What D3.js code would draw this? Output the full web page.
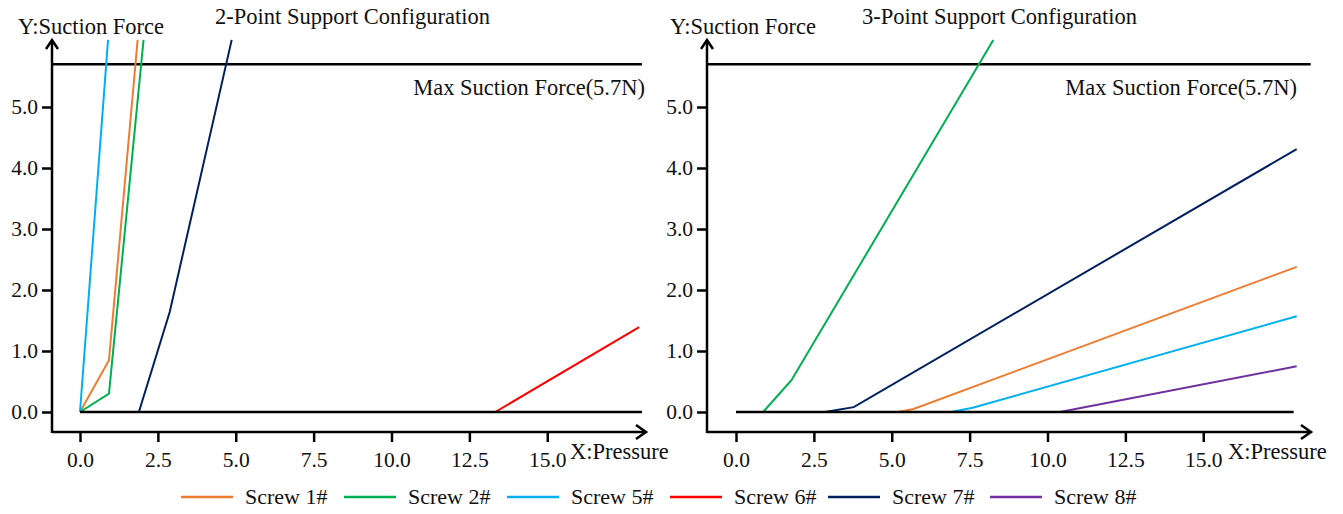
<!DOCTYPE html>
<html>
<head>
<meta charset="utf-8">
<script src="https://cdn.jsdelivr.net/npm/d3@7"></script>
<style>
  body { margin: 0; background: #fff; }
  svg text { font-family: "Liberation Serif", "Times New Roman", serif; fill: #111; }
</style>
</head>
<body>
<div id="chart"></div>
<script>
// series values: [pressure, suction force]
const screwNames = ["Screw 1#", "Screw 2#", "Screw 5#", "Screw 6#", "Screw 7#", "Screw 8#"];
const screwColors = ["#ED7D31", "#00B050", "#00B0F0", "#FF0000", "#002060", "#7030A0"];

const twoPoint = {
  "Screw 1#": [[0, 0], [0.93, 0.85], [1.85, 6.1]],
  "Screw 2#": [[0, 0], [0.93, 0.3], [2.04, 6.1]],
  "Screw 5#": [[0, 0], [0.9, 6.1]],
  "Screw 6#": [[13.33, 0], [17.95, 1.39]],
  "Screw 7#": [[1.89, 0], [2.88, 1.64], [4.87, 6.1]]
};

const threePoint = {
  "Screw 1#": [[5.2, 0], [5.7, 0.05], [18.0, 2.38]],
  "Screw 2#": [[0.87, 0], [1.78, 0.52], [8.26, 6.1]],
  "Screw 5#": [[6.9, 0], [7.6, 0.07], [18.0, 1.57]],
  "Screw 7#": [[2.85, 0], [3.78, 0.08], [18.0, 4.31]],
  "Screw 8#": [[10.4, 0], [18.0, 0.75]]
};

const xTicks = [0, 2.5, 5, 7.5, 10, 12.5, 15];
const yTicks = [0, 1, 2, 3, 4, 5];
const maxForce = 5.7;

const W = 1343, H = 514;
const svg = d3.select("#chart").append("svg")
  .attr("width", W)
  .attr("height", H);

function drawPanel(opt, data) {
  const x = d3.scaleLinear().domain([0, 15]).range([opt.x0, opt.x0 + 15 * 31.15]);
  const y = d3.scaleLinear().domain([0, 5]).range([412, 107]);
  const g = svg.append("g");

  // axes
  const xAxis = g.append("g")
    .attr("transform", "translate(0,432)")
    .call(d3.axisBottom(x).tickValues(xTicks).tickFormat(d3.format(".1f")).tickSize(10).tickPadding(10));
  const yAxis = g.append("g")
    .attr("transform", `translate(${opt.ax},0)`)
    .call(d3.axisLeft(y).tickValues(yTicks).tickFormat(d3.format(".1f")).tickSize(10).tickPadding(4));
  [xAxis, yAxis].forEach(a => {
    a.attr("font-family", null);
    a.select(".domain").remove();
    a.selectAll(".tick line").attr("stroke", "#000").attr("stroke-width", 2.5);
    a.selectAll(".tick text").style("font-size", "21.5px").attr("fill", "#111");
  });

  // axis lines with open arrows
  g.append("path")
    .attr("d", `M${opt.ax},432 H${opt.arrowX} M${opt.arrowX - 10},425 L${opt.arrowX},432 L${opt.arrowX - 10},439`)
    .attr("fill", "none").attr("stroke", "#000").attr("stroke-width", 2.5);
  g.append("path")
    .attr("d", `M${opt.ax},433 V40 M${opt.ax - 6},49 L${opt.ax},40 L${opt.ax + 6},49`)
    .attr("fill", "none").attr("stroke", "#000").attr("stroke-width", 2.5);

  // max suction force line
  g.append("line")
    .attr("x1", opt.ax).attr("x2", x(opt.maxEnd))
    .attr("y1", y(maxForce)).attr("y2", y(maxForce))
    .attr("stroke", "#000").attr("stroke-width", 2.5);
  g.append("text")
    .attr("x", opt.maxLabelX).attr("y", 95)
    .attr("text-anchor", "end")
    .style("font-size", "22.5px")
    .text("Max Suction Force(5.7N)");

  // data lines
  const line = d3.line().x(d => x(d[0])).y(d => y(d[1]));
  screwNames.forEach((name, i) => {
    if (!data[name]) return;
    g.append("path")
      .datum(data[name])
      .attr("d", line)
      .attr("fill", "none")
      .attr("stroke", screwColors[i])
      .attr("stroke-width", 2);
  });

  // zero line on top
  g.append("line")
    .attr("x1", x(0)).attr("x2", x(opt.zeroEnd))
    .attr("y1", y(0)).attr("y2", y(0))
    .attr("stroke", "#000").attr("stroke-width", 2.5);

  // labels
  g.append("text").attr("x", opt.ax - opt.yLabelShift).attr("y", 34)
    .style("font-size", "22.5px").text("Y:Suction Force");
  g.append("text").attr("x", opt.titleX).attr("y", 24)
    .style("font-size", "22.5px").text(opt.title);
  g.append("text").attr("x", opt.xLabelX).attr("y", 459)
    .style("font-size", "22.5px").text("X:Pressure");
}

drawPanel({
  x0: 80, ax: 52, arrowX: 646, maxEnd: 18.04, zeroEnd: 18.04,
  maxLabelX: 645, titleX: 215, xLabelX: 570, yLabelShift: 34,
  title: "2-Point Support Configuration"
}, twoPoint);

drawPanel({
  x0: 736, ax: 707, arrowX: 1311, maxEnd: 18.45, zeroEnd: 17.9,
  maxLabelX: 1297, titleX: 862, xLabelX: 1228, yLabelShift: 37,
  title: "3-Point Support Configuration"
}, threePoint);

// legend
const legendX = [181, 344, 507, 670, 828, 990];
const legend = svg.append("g");
screwNames.forEach((name, i) => {
  const lg = legend.append("g").attr("transform", `translate(${legendX[i]},497)`);
  lg.append("line").attr("x1", 0).attr("x2", 52).attr("y1", 0).attr("y2", 0)
    .attr("stroke", screwColors[i]).attr("stroke-width", 2.5);
  lg.append("text").attr("x", 64).attr("y", 7)
    .style("font-size", "22px").text(name);
});
</script>
</body>
</html>
